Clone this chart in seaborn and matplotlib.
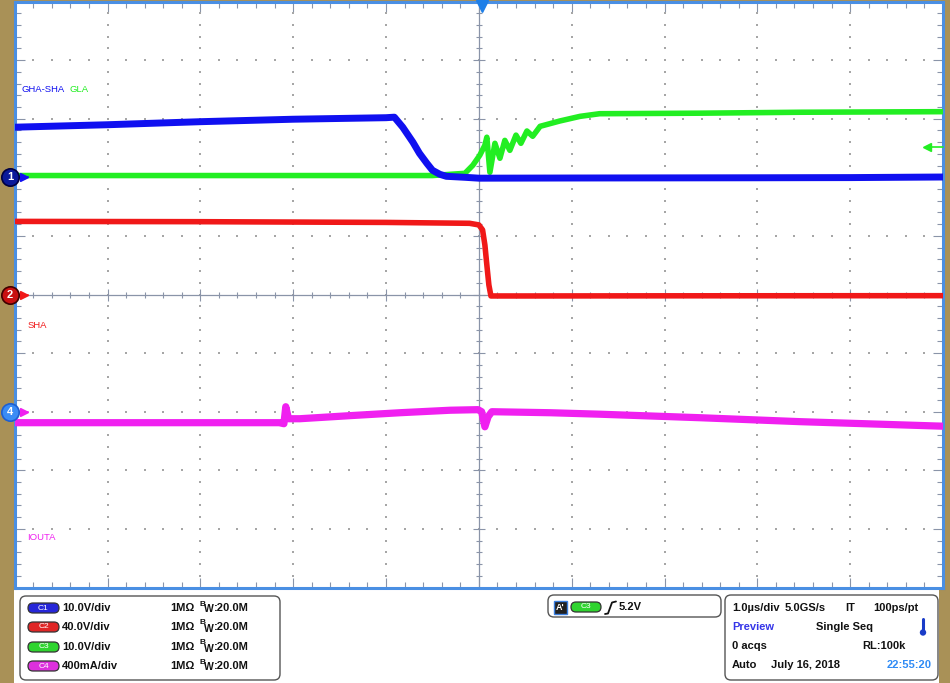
import numpy as np
import pandas as pd
import matplotlib
matplotlib.use("Agg")
import matplotlib.pyplot as plt
import matplotlib.transforms as mtransforms
from matplotlib.patches import FancyBboxPatch, Rectangle, Circle, Polygon
from matplotlib.lines import Line2D
import seaborn as sns

# ---------------- data (time in us) ----------------
ch1_t = [-5.0, -4.0, -3.0, -2.0, -1.0, -0.91, -0.82, -0.71, -0.64, -0.56, -0.50,
         -0.42, -0.35, -0.15, 0.0, 1.0, 2.0, 3.0, 4.0, 5.0]
ch1_v = [8.55, 8.97, 9.49, 9.91, 10.17, 10.26, 8.55, 5.98, 4.1, 2.39, 1.2,
         0.51, 0.17, 0.0, -0.15, -0.12, -0.1, -0.08, -0.05, 0.05]

ch3_t = [-5.0, -2.0, -0.5, -0.15, -0.065, 0.01, 0.065, 0.086, 0.119, 0.173, 0.227,
         0.28, 0.334, 0.40, 0.453, 0.518, 0.58, 0.66, 0.87, 1.09, 1.3, 2.38, 3.46, 5.0]
ch3_v = [0.3, 0.3, 0.3, 0.68, 2.05, 3.76, 5.47, 6.84, 0.85, 5.8, 3.25,
         6.3, 4.6, 7.2, 5.8, 7.9, 7.0, 8.7, 9.6, 10.4, 10.85, 10.94, 11.1, 11.2]

ch2_t = [-5.0, -3.0, -1.0, -0.1, 0.0, 0.04, 0.065, 0.086, 0.108, 0.13, 0.5, 2.0, 5.0]
ch2_v = [49.9, 49.7, 49.2, 48.6, 47.5, 44.1, 33.8, 20.2, 6.5, -1.0, -1.0, -0.9, -0.8]

ch4_t = [-5.0, -4.0, -3.0, -2.15, -2.10, -2.08, -2.05, -1.93, -1.39, -0.85, -0.31,
         -0.01, 0.03, 0.065, 0.10, 0.14, 0.77, 1.3, 2.38, 3.46, 5.0]
ch4_ma = [-75, -75, -75, -75, -82, 34, -48, -48, -27, -7, 10,
          14, 0, -103, -34, 0, -7, -17, -41, -68, -99]

channel_names = ["GHA-SHA", "SHA", "GLA", "IOUTA"]
scale_labels = ["10.0V/div", "40.0V/div", "10.0V/div", "400mA/div"]
volts_per_div = [10.0, 40.0, 10.0, 400.0]
positions_div = [2.0, 0.0, 2.0, -2.0]
trigger_level = 5.2

# ---------------- style ----------------
sns.set_style("white")
plt.rcParams["font.family"] = ["Liberation Sans", "DejaVu Sans"]

TAN = "#A99157"
BORDER = "#4A8FE3"
GRIDC = "#8A94A8"
DOTC = "#A6A6A6"
C1 = "#1010F0"
C2 = "#F01818"
C3 = "#22EE22"
C4 = "#F020F0"

W, H = 950, 683
fig = plt.figure(figsize=(9.5, 6.83), dpi=100)
fig.patch.set_facecolor(TAN)
pix = mtransforms.Affine2D().scale(1.0 / W, -1.0 / H).translate(0, 1) + fig.transFigure

# white lower panel
fig.add_artist(Rectangle((14, 588), 925, 96, transform=pix, facecolor="white",
                         edgecolor="none", zorder=0))

x0, x1, y0, y1 = 14.7, 943.0, 1.5, 587.5
ax = fig.add_axes([x0 / W, 1 - y1 / H, (x1 - x0) / W, (y1 - y0) / H])
ax.set_facecolor("white")
ax.set_xlim(-5, 5)
ax.set_ylim(-5, 5)
for sp in ax.spines.values():
    sp.set_color(BORDER)
    sp.set_linewidth(2.2)

ax.set_xticks(np.arange(-5, 6, 1))
ax.set_yticks(np.arange(-5, 6, 1))
ax.set_xticks(np.arange(-5, 5.001, 0.2), minor=True)
ax.set_yticks(np.arange(-5, 5.001, 0.2), minor=True)
ax.tick_params(which="both", direction="in", top=True, right=True, bottom=True, left=True,
               labelbottom=False, labelleft=False, color=GRIDC, width=0.8)
ax.tick_params(which="major", length=7)
ax.tick_params(which="minor", length=4.3)
ax.set_xlabel("")
ax.set_ylabel("")

# dotted graticule
minor = np.round(np.arange(-5, 5.001, 0.2), 3)
gx, gy = [], []
for m in range(-4, 5):
    if m == 0:
        continue
    gx += [m] * len(minor)
    gy += list(minor)
    gx += list(minor)
    gy += [m] * len(minor)
ax.scatter(gx, gy, s=1.3, marker="s", color=DOTC, linewidths=0, zorder=1)

# center cross
ax.axhline(0, color=GRIDC, lw=0.9, zorder=1)
ax.axvline(0, color=GRIDC, lw=0.9, zorder=1)
inner = minor[(minor > -5) & (minor < 5)]
is_major = np.isclose(inner, np.round(inner))
ax.plot(inner[~is_major], np.zeros((~is_major).sum()), ls="none", marker="|", ms=5,
        mew=0.8, color=GRIDC, zorder=1)
ax.plot(inner[is_major], np.zeros(is_major.sum()), ls="none", marker="|", ms=8,
        mew=0.8, color=GRIDC, zorder=1)
ax.plot(np.zeros((~is_major).sum()), inner[~is_major], ls="none", marker="_", ms=5,
        mew=0.8, color=GRIDC, zorder=1)
ax.plot(np.zeros(is_major.sum()), inner[is_major], ls="none", marker="_", ms=8,
        mew=0.8, color=GRIDC, zorder=1)

# ---------------- traces ----------------
def to_div(vals, idx):
    return np.asarray(vals, float) / volts_per_div[idx] + positions_div[idx]

traces = [
    (ch4_t, to_div(ch4_ma, 3), C4, 5.2),
    (ch2_t, to_div(ch2_v, 1), C2, 4.0),
    (ch3_t, to_div(ch3_v, 2), C3, 4.0),
    (ch1_t, to_div(ch1_v, 0), C1, 5.0),
]
for i, (t, y, c, lw) in enumerate(traces):
    df = pd.DataFrame({"t": t, "y": y})
    sns.lineplot(data=df, x="t", y="y", ax=ax, color=c, linewidth=lw, sort=False,
                 estimator=None, zorder=3 + i)
ax.set_xlabel("")
ax.set_ylabel("")

# channel labels inside
fs_lab = 6.8
fig.text(21, 89, "GHA-SHA", transform=pix, color=C1, fontsize=fs_lab, va="center")
fig.text(69, 89, "GLA", transform=pix, color=C3, fontsize=fs_lab, va="center")
fig.text(28, 326, "SHA", transform=pix, color=C2, fontsize=fs_lab, va="center")
fig.text(27, 537, "IOUTA", transform=pix, color=C4, fontsize=fs_lab, va="center")

# channel ground markers on the left
blend = mtransforms.blended_transform_factory(ax.transAxes, ax.transData)
cx = (10 - x0) / (x1 - x0)
ax_ = (24 - x0) / (x1 - x0)
markers = [(positions_div[0], "1", "#0A1A9A", C1, "#000040"),
           (positions_div[1], "2", "#C81010", C2, "#400000"),
           (positions_div[3], "4", "#3A8CF5", C4, "#1E5FD0")]
for yv, lab, fc, ac, ec in markers:
    ax.plot([cx + 0.004, ax_ + 0.004], [yv, yv], color=ac, lw=1.2, transform=blend,
            clip_on=False, zorder=20)
    ax.plot([ax_], [yv], marker=">", ms=6, color=ac, transform=blend, clip_on=False,
            zorder=20)
    ax.plot([cx], [yv], marker="o", ms=12.5, mfc=fc, mec=ec, mew=1.2,
            transform=blend, clip_on=False, zorder=21)
    ax.text(cx, yv, lab, transform=blend, color="white", fontsize=8, fontweight="bold",
            ha="center", va="center", zorder=22, clip_on=False)

# trigger level arrow (right side)
tl = trigger_level / volts_per_div[2] + positions_div[2]
ax.plot([4.83, 5.0], [tl, tl], color=C3, lw=1.2, clip_on=False, zorder=20)
ax.plot([4.83], [tl], marker="<", ms=6, color=C3, clip_on=False, zorder=20)

# trigger position marker (top)
ax.plot([0.03], [4.93], marker="v", ms=8, color="#1E7FE8", mec="#1E7FE8",
        clip_on=False, zorder=20)

# ---------------- bottom status panel ----------------
def box(xa, ya, w, h, r=6):
    fig.add_artist(FancyBboxPatch((xa, ya), w, h, boxstyle=f"round,pad=0,rounding_size={r}",
                                  transform=pix, facecolor="white", edgecolor="#555555",
                                  lw=1.0, zorder=2))

def pill(xa, yc, w, h, color, label):
    fig.add_artist(FancyBboxPatch((xa, yc - h / 2), w, h,
                                  boxstyle=f"round,pad=0,rounding_size={h/2}",
                                  transform=pix, facecolor=color, edgecolor="#333333",
                                  lw=0.9, zorder=3))
    fig.text(xa + w / 2, yc, label, transform=pix, color="white", fontsize=6,
             ha="center", va="center", zorder=4)

TXT = dict(transform=pix, fontsize=8, fontweight="bold", va="center", color="#111111",
           zorder=4)

box(20, 596, 260, 84)
rows = [608, 627, 647, 666]
pill_cols = ["#2626D8", "#E02626", "#2FD42F", "#DD30DD"]
for i, yc in enumerate(rows):
    pill(28, yc, 31, 10, pill_cols[i], f"C{i+1}")
    fig.text(62, yc, scale_labels[i], **TXT)
    fig.text(170, yc, "1M\u03A9", **TXT)
    fig.text(199, yc - 4, "B", transform=pix, fontsize=6, fontweight="bold",
             va="center", color="#111111", zorder=4)
    fig.text(203.5, yc + 1.5, "W", transform=pix, fontsize=7.5, fontweight="bold",
             va="center", color="#111111", zorder=4)
    fig.text(214, yc, ":20.0M", **TXT)

box(548, 595, 173, 22)
fig.add_artist(Rectangle((554, 601), 13, 13, transform=pix, facecolor="#202020",
                         edgecolor="#3A7FE0", lw=1.0, zorder=3))
fig.text(560.5, 607.5, "A'", transform=pix, color="white", fontsize=6.5,
         fontweight="bold", ha="center", va="center", zorder=4)
pill(571, 607, 30, 10, "#2FD42F", "C3")
fig.add_artist(Line2D([605, 608, 610, 612, 616], [614, 613.5, 608, 602.5, 601.5],
                      transform=pix, color="#111111", lw=1.3, zorder=4))
fig.text(619, 607, f"{trigger_level}V", **TXT)

box(725, 595, 213, 85)
fig.text(732, 608, "1.0\u00b5s/div", **TXT)
fig.text(785, 608, "5.0GS/s", **TXT)
fig.text(845, 608, "IT", **TXT)
fig.text(918, 608, "100ps/pt", ha="right", **{k: v for k, v in TXT.items()})
fig.text(732, 627, "Preview", transform=pix, fontsize=8, fontweight="bold", va="center",
         color="#3535E8", zorder=4)
fig.text(816, 627, "Single Seq", **TXT)
fig.add_artist(Line2D([923, 923], [619, 631], transform=pix, color="#1A3CC8", lw=2.2,
                      solid_capstyle="round", zorder=4))
fig.add_artist(Circle((923, 632.5), 3.2, transform=pix, facecolor="#1A3CC8",
                      edgecolor="none", zorder=4))
fig.text(732, 646, "0 acqs", **TXT)
fig.text(906, 646, "RL:100k", ha="right", **TXT)
fig.text(732, 665, "Auto", **TXT)
fig.text(771, 665, "July 16, 2018", **TXT)
fig.text(932, 665, "22:55:20", transform=pix, fontsize=8, fontweight="bold", va="center",
         ha="right", color="#2F8BF5", zorder=4)

fig.savefig("out.png", dpi=100, facecolor=fig.get_facecolor())
